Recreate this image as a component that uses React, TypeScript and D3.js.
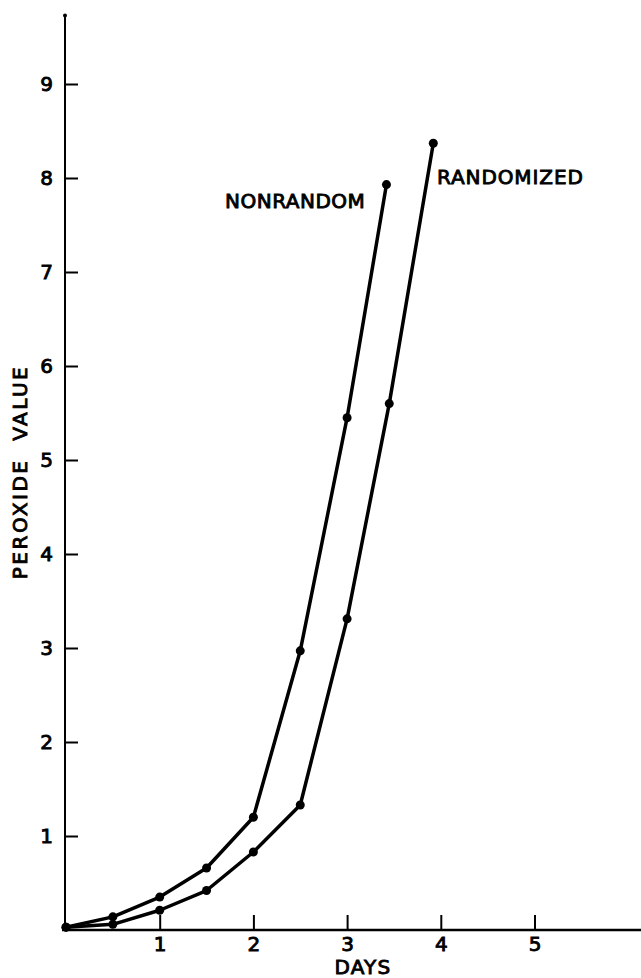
import React, { useRef, useEffect } from 'react';
import * as d3 from 'd3';

const nonrandomDays = [0, 0.5, 1, 1.5, 2, 2.5, 3, 3.42];
const nonrandomValues = [0.03, 0.14, 0.35, 0.66, 1.2, 2.97, 5.45, 7.93];
const randomizedDays = [0, 0.5, 1, 1.5, 2, 2.5, 3, 3.45, 3.92];
const randomizedValues = [0.03, 0.06, 0.21, 0.42, 0.83, 1.33, 3.31, 5.6, 8.37];
const xTicks = [1, 2, 3, 4, 5];
const yTicks = [1, 2, 3, 4, 5, 6, 7, 8, 9];

const FONT = '"DejaVu Sans", sans-serif';

const App = () => {
  const svgRef = useRef<SVGSVGElement>(null);
  const width = 641;
  const height = 978;

  useEffect(() => {
    const svg = d3.select(svgRef.current);
    svg.selectAll('*').remove();

    const x = d3.scaleLinear().domain([0, 6]).range([66, 66 + 6 * 93.7]);
    const y = d3.scaleLinear().domain([0, 9]).range([930, 84]);
    const axisX = 65;

    // axis lines
    svg.append('line')
      .attr('x1', axisX).attr('x2', axisX)
      .attr('y1', y(9.73)).attr('y2', 931)
      .attr('stroke', '#000').attr('stroke-width', 2);
    svg.append('circle').attr('cx', axisX).attr('cy', y(9.73)).attr('r', 2).attr('fill', '#000');
    svg.append('line')
      .attr('x1', 62).attr('x2', width)
      .attr('y1', 930).attr('y2', 930)
      .attr('stroke', '#000').attr('stroke-width', 2.5);

    const yAxis = d3.axisLeft(y).tickValues(yTicks).tickSize(-13).tickPadding(12).tickFormat(d3.format('d'));
    const gy = svg.append('g').attr('transform', `translate(${axisX},0)`).call(yAxis);
    gy.select('.domain').remove();

    const xAxis = d3.axisBottom(x).tickValues(xTicks).tickSize(-15).tickPadding(7).tickFormat(d3.format('d'));
    const gx = svg.append('g').attr('transform', 'translate(0,930)').call(xAxis);
    gx.select('.domain').remove();

    [gx, gy].forEach((g) => {
      g.selectAll('line').attr('stroke', '#000').attr('stroke-width', 2);
      g.selectAll('text')
        .attr('font-family', FONT)
        .attr('font-size', 20)
        .attr('fill', '#000')
        .attr('stroke', '#000')
        .attr('stroke-width', 0.9);
    });

    const line = d3.line<[number, number]>()
      .x((d) => x(d[0]))
      .y((d) => y(d[1]));

    const series = [
      d3.zip(nonrandomDays, nonrandomValues) as [number, number][],
      d3.zip(randomizedDays, randomizedValues) as [number, number][],
    ];

    series.forEach((pts) => {
      svg.append('path')
        .attr('d', line(pts))
        .attr('fill', 'none')
        .attr('stroke', '#000')
        .attr('stroke-width', 3.5)
        .attr('stroke-linejoin', 'round');
      svg.selectAll(null)
        .data(pts)
        .join('circle')
        .attr('cx', (d) => x(d[0]))
        .attr('cy', (d) => y(d[1]))
        .attr('r', 4.5)
        .attr('fill', '#000');
    });

    const label = (txt: string, tx: number, ty: number, anchor: string, spacing: number) =>
      svg.append('text')
        .attr('x', tx).attr('y', ty)
        .attr('text-anchor', anchor)
        .attr('font-family', FONT)
        .attr('font-size', 20)
        .attr('letter-spacing', spacing)
        .attr('fill', '#000')
        .attr('stroke', '#000')
        .attr('stroke-width', 0.9)
        .style('white-space', 'pre')
        .text(txt);

    label('NONRANDOM', 225, 208, 'start', 0.5);
    label('RANDOMIZED', 437, 184, 'start', 0.9);
    label('DAYS', 363, 974, 'middle', 1.2);
    label('PEROXIDE  VALUE', 0, 0, 'middle', 2.5)
      .attr('transform', 'translate(27,472) rotate(-90)');
  }, []);

  return (
    <svg
      ref={svgRef}
      width={width}
      height={height}
      style={{ position: 'absolute', left: 0, top: 0, background: '#fff' }}
    ></svg>
  );
};

export default App;
